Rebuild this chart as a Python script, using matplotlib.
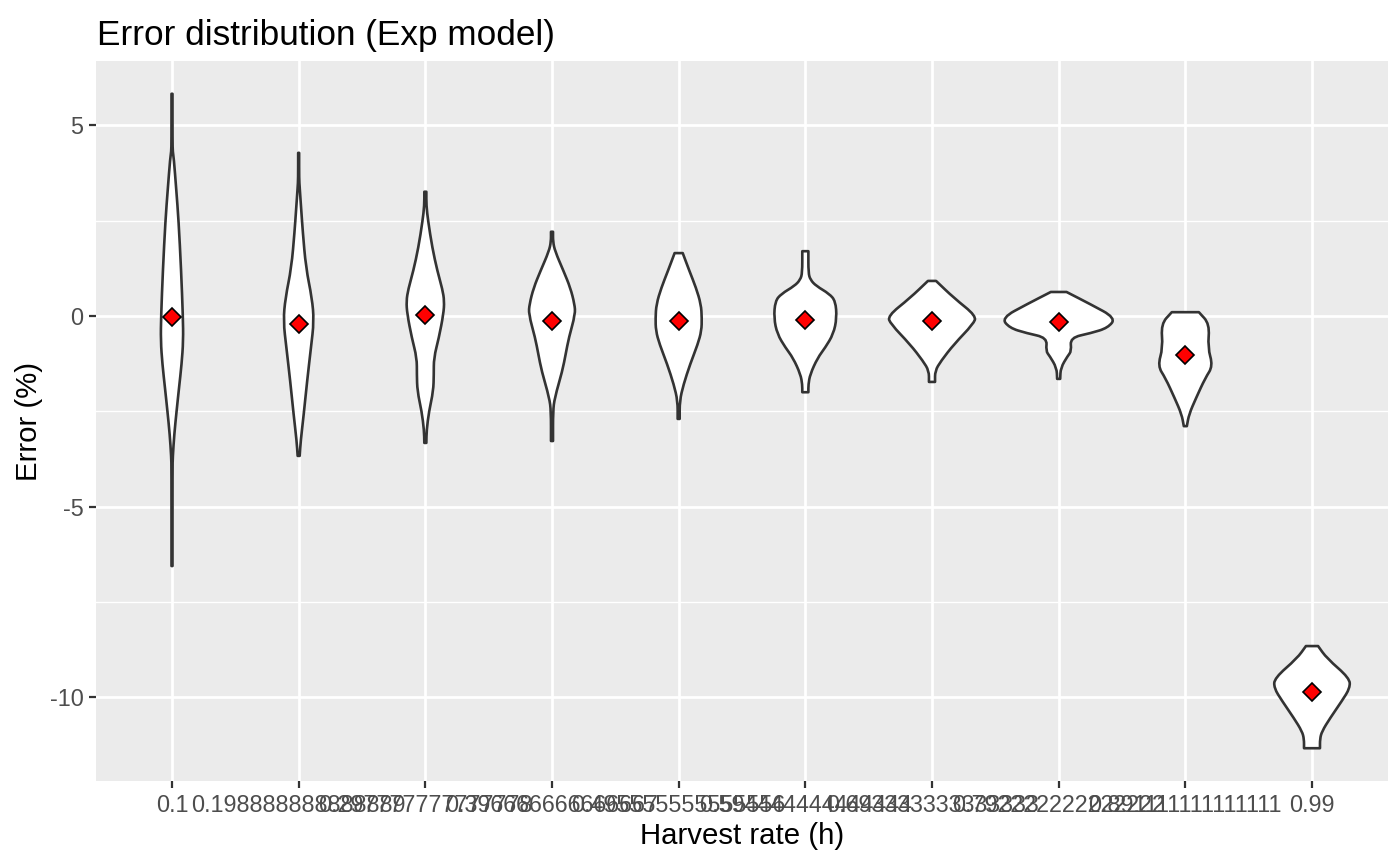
import matplotlib
matplotlib.use("Agg")
import matplotlib.pyplot as plt
from matplotlib.ticker import FixedLocator
from matplotlib.path import Path
from matplotlib.patches import PathPatch

# ---------------- data ----------------
harvest_labels = ["0.1", "0.198888888888889", "0.297777777777778",
                  "0.396666666666667", "0.495555555555556", "0.594444444444444",
                  "0.693333333333333", "0.792222222222222", "0.891111111111111",
                  "0.99"]

# violin outlines: error level (%) and half-width (in category units)
v0_y = [5.83, 4.6, 4.3, 4.15, 3.3, 2.5, 1.2, 0.0, -0.65, -1.26, -1.9, -2.5, -3.1, -3.7, -4.0, -6.56]
v0_w = [0.004, 0.004, 0.006, 0.014, 0.034, 0.052, 0.072, 0.086, 0.089, 0.076, 0.055, 0.036, 0.018, 0.006, 0.004, 0.004]

v1_y = [4.28, 3.6, 3.37, 2.8, 2.23, 1.27, 0.47, -0.13, -0.83, -1.7, -2.58, -3.28, -3.67]
v1_w = [0.004, 0.004, 0.008, 0.020, 0.032, 0.057, 0.105, 0.121, 0.097, 0.067, 0.040, 0.016, 0.008]

v2_y = [3.26, 2.9, 2.49, 1.79, 1.18, 0.7, 0.39, 0.05, -0.57, -1.1, -1.53, -1.97, -2.5, -3.0, -3.33]
v2_w = [0.008, 0.008, 0.022, 0.055, 0.095, 0.135, 0.150, 0.143, 0.107, 0.067, 0.067, 0.063, 0.029, 0.010, 0.008]

v3_y = [2.21, 1.95, 1.7, 1.18, 0.74, 0.31, 0.05, -0.57, -1.0, -1.44, -2.15, -2.5, -3.28]
v3_w = [0.008, 0.008, 0.024, 0.091, 0.145, 0.178, 0.184, 0.133, 0.108, 0.082, 0.021, 0.008, 0.008]

v4_y = [1.65, 1.18, 0.74, 0.31, -0.05, -0.39, -0.74, -1.26, -1.8, -2.23, -2.7]
v4_w = [0.032, 0.085, 0.137, 0.176, 0.183, 0.180, 0.151, 0.091, 0.038, 0.008, 0.008]

v5_y = [1.7, 1.13, 0.95, 0.79, 0.58, 0.39, -0.05, -0.47, -0.83, -1.1, -1.53, -1.8, -2.0]
v5_w = [0.024, 0.024, 0.040, 0.085, 0.190, 0.238, 0.248, 0.222, 0.157, 0.097, 0.038, 0.024, 0.024]

v6_y = [0.92, 0.47, 0.0, -0.21, -0.74, -1.18, -1.44, -1.73]
v6_w = [0.032, 0.174, 0.350, 0.326, 0.174, 0.071, 0.024, 0.024]

v7_y = [0.63, 0.31, -0.05, -0.31, -0.45, -0.57, -0.92, -1.05, -1.36, -1.65]
v7_w = [0.062, 0.250, 0.450, 0.390, 0.254, 0.091, 0.101, 0.071, 0.016, 0.012]

v8_y = [0.1, -0.21, -0.83, -1.31, -1.63, -2.15, -2.58, -2.89]
v8_w = [0.107, 0.192, 0.177, 0.218, 0.157, 0.085, 0.029, 0.012]

v9_y = [-8.66, -8.98, -9.5, -9.76, -10.1, -10.55, -10.9, -11.1, -11.34]
v9_w = [0.048, 0.117, 0.296, 0.300, 0.236, 0.143, 0.078, 0.063, 0.063]

violin_y = [v0_y, v1_y, v2_y, v3_y, v4_y, v5_y, v6_y, v7_y, v8_y, v9_y]
violin_w = [v0_w, v1_w, v2_w, v3_w, v4_w, v5_w, v6_w, v7_w, v8_w, v9_w]

mean_error = [-0.03, -0.21, 0.03, -0.13, -0.13, -0.10, -0.13, -0.16, -1.02, -9.87]

y_ticks = [-10, -5, 0, 5]
y_ticklabels = ["-10", "-5", "0", "5"]
y_minor = [-7.5, -2.5, 2.5]


def smooth_side(pts, verts, codes):
    """Append a smooth (quadratic Bezier through midpoints) run along pts."""
    n = len(pts)
    if n < 3:
        for p in pts:
            verts.append(p)
            codes.append(Path.LINETO)
        return
    verts.append(pts[0]); codes.append(Path.LINETO)
    m = ((pts[0][0] + pts[1][0]) / 2, (pts[0][1] + pts[1][1]) / 2)
    verts.append(m); codes.append(Path.LINETO)
    for k in range(1, n - 1):
        m = ((pts[k][0] + pts[k + 1][0]) / 2, (pts[k][1] + pts[k + 1][1]) / 2)
        verts.extend([pts[k], m]); codes.extend([Path.CURVE3, Path.CURVE3])
    verts.append(pts[-1]); codes.append(Path.LINETO)


# ---------------- figure ----------------
plt.rcParams["font.family"] = ["Liberation Sans", "DejaVu Sans"]
W, H = 1400, 865
fig = plt.figure(figsize=(W / 100, H / 100), dpi=100)
ax = fig.add_axes([96 / W, 1 - 781 / H, (1388 - 96) / W, (781 - 61) / H])

ax.set_facecolor("#EBEBEB")
for s in ax.spines.values():
    s.set_visible(False)

ax.set_xlim(-0.6, len(harvest_labels) - 1 + 0.6)
ax.set_ylim(-12.2, 6.69)

ax.xaxis.set_major_locator(FixedLocator(range(len(harvest_labels))))
ax.set_xticklabels(harvest_labels)
ax.yaxis.set_major_locator(FixedLocator(y_ticks))
ax.set_yticklabels(y_ticklabels)
ax.yaxis.set_minor_locator(FixedLocator(y_minor))

ax.grid(which="major", color="white", linewidth=1.95)
ax.grid(which="minor", axis="y", color="white", linewidth=0.95)
ax.set_axisbelow(True)

ax.tick_params(axis="both", which="major", length=5, width=1.6, color="#333333",
               labelcolor="#4D4D4D", labelsize=16.8, pad=4)
ax.tick_params(axis="both", which="minor", length=0)

for i in range(len(harvest_labels)):
    ys = violin_y[i]
    ws = violin_w[i]
    right = [(i + w, y) for y, w in zip(ys, ws)]              # top -> bottom
    left = [(i - w, y) for y, w in zip(ys[::-1], ws[::-1])]   # bottom -> top
    verts = [right[0]]
    codes = [Path.MOVETO]
    smooth_side(right, verts, codes)
    smooth_side(left, verts, codes)
    verts.append(right[0]); codes.append(Path.CLOSEPOLY)
    ax.add_patch(PathPatch(Path(verts, codes), facecolor="white",
                           edgecolor="#333333", linewidth=1.9, zorder=3,
                           joinstyle="round"))

ax.plot(range(len(mean_error)), mean_error, linestyle="none", marker="D",
        markersize=9.4, markerfacecolor="red", markeredgecolor="black",
        markeredgewidth=1.2, zorder=4)

fig.text(97 / W, 1 - 45 / H, "Error distribution (Exp model)", fontsize=25.3,
         color="black", ha="left", va="baseline")
fig.text((96 + 1388) / 2 / W, 1 - 844 / H, "Harvest rate (h)", fontsize=21.2,
         color="black", ha="center", va="baseline")
fig.text(29 / W, 1 - (61 + 781) / 2 / H, "Error (%)", fontsize=21.2, rotation=90,
         color="black", ha="center", va="center")

fig.savefig("out.png", dpi=100, facecolor="white")
